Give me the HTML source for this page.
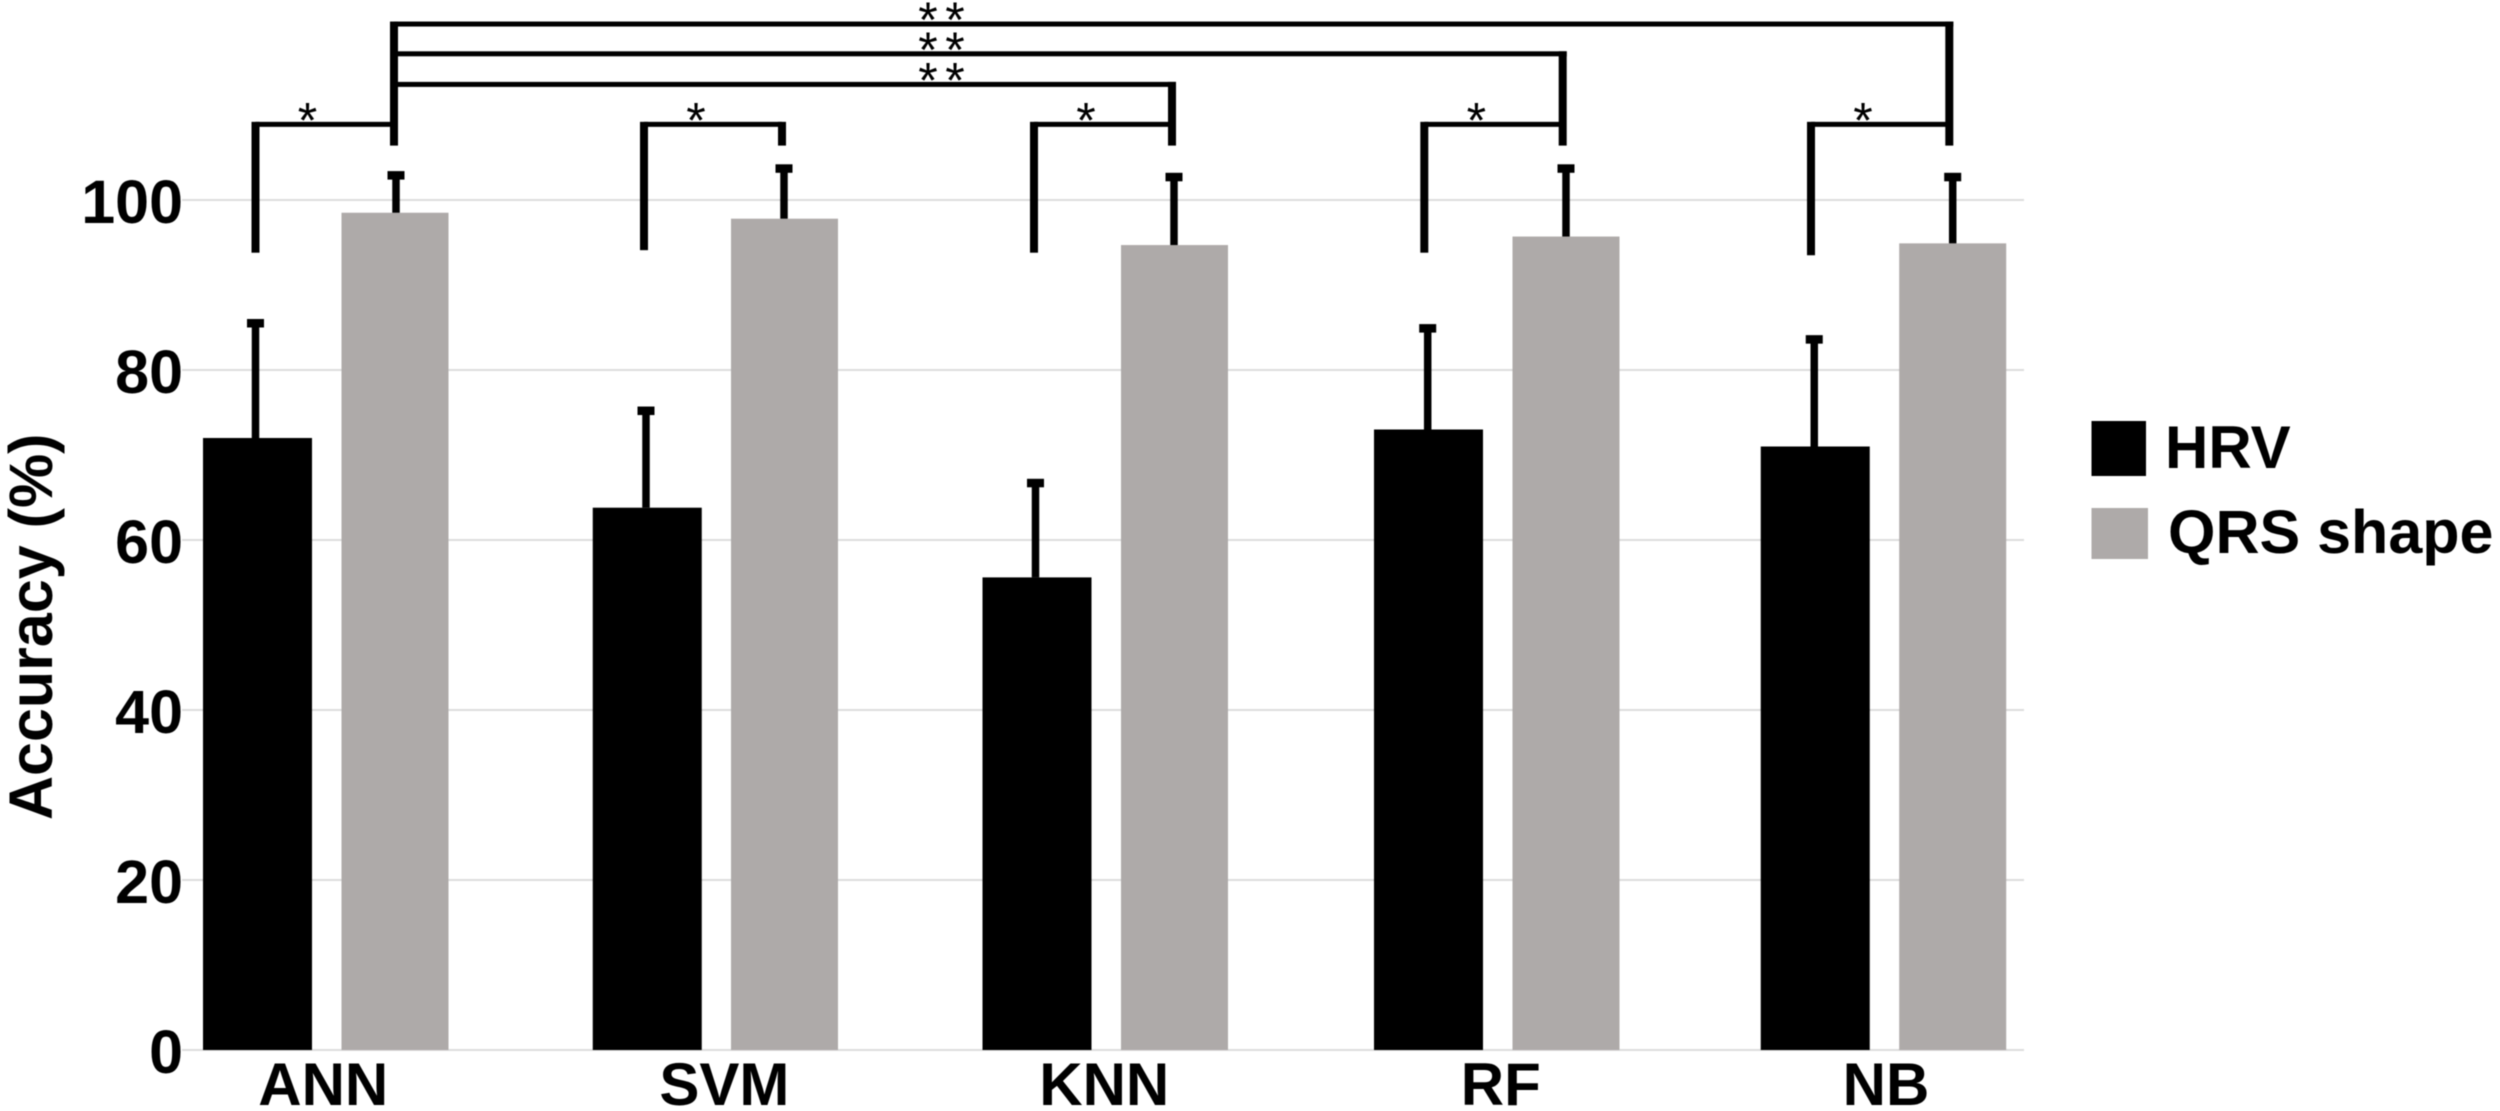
<!DOCTYPE html>
<html lang="en">
<head>
<meta charset="utf-8">
<title>Accuracy of HRV vs QRS shape classifiers</title>
<style>
  html, body { margin: 0; padding: 0; background: #fff; }
  #chart { display: block; width: 2500px; height: 1111px; filter: blur(0.5px); }
  text { font-family: "Liberation Sans", Arial, sans-serif; fill: #000; }
  .bold { font-weight: 700; }
</style>
</head>
<body>
<svg id="chart" xmlns="http://www.w3.org/2000/svg" width="2500" height="1111" viewBox="0 0 2500 1111">
  <rect x="0" y="0" width="2500" height="1111" fill="#fff"/>
  <g id="grid"></g>
  <g id="ticks"></g>
  <g id="bars"></g>
  <g id="errors"></g>
  <g id="brackets"></g>
  <g id="xlabels"></g>
  <text class="bold" font-size="61" transform="translate(52,820) rotate(-90)">Accuracy (%)</text>
  <g>
    <g>
      <rect x="2091.5" y="421" width="54.5" height="55" fill="#000"/>
      <text class="bold" x="2165" y="468" font-size="60">HRV</text>
    </g>
    <g>
      <rect x="2091.5" y="508" width="56.5" height="51" fill="#aeaaa9"/>
      <text class="bold" x="2168" y="553" font-size="61">QRS shape</text>
    </g>
  </g>
</svg>
<script>
const categories = ["ANN", "SVM", "KNN", "RF", "NB"];
const hrvValues = [72.0, 63.8, 55.6, 73.0, 71.0];
const qrsValues = [98.5, 97.8, 94.7, 95.7, 94.9];
const hrvErrorTops = [85.5, 75.2, 66.7, 84.9, 83.6];
const qrsErrorTops = [102.9, 103.7, 102.7, 103.7, 102.7];
const yTicks = [0, 20, 40, 60, 80, 100];
const pairLevel = [108.9, 108.9, 108.9, 108.9, 108.9];
const longLevel = [null, null, 113.6, 117.2, 120.7];
const hrvBracketEnd = [93.8, 94.1, 93.8, 93.8, 93.5];
const qrsBracketEnd = [106.4, 106.4, 106.4, 106.4, 106.4];

const NS = 'http://www.w3.org/2000/svg';
function yScale(v) { return 1050 - v * 8.5; }
function xHrv(i) { return [257.5, 647.25, 1037, 1428.5, 1815.25][i]; }
function xQrs(i) { return [395, 784.5, 1174.5, 1566, 1952.7][i]; }
function stemOffset(series, i) {
  return series === 'hrv' ? [-2, -1.25, -1.5, -0.8, -1][i] : [1, -0.5, -0.5, 0, 0][i];
}
function bracketLeft(i) { return [255.5, 644, 1034, 1424.3, 1811][i]; }
function bracketRight(i) { return [394, 782, 1172, 1562.7, 1949.3][i]; }
function make(tag, attrs, parent) {
  const el = document.createElementNS(NS, tag);
  for (const k in attrs) el.setAttribute(k, attrs[k]);
  parent.appendChild(el);
  return el;
}

const gridG = document.getElementById('grid');
const ticksG = document.getElementById('ticks');
yTicks.forEach(function (t) {
  const line = make('rect', { x: 182, y: yScale(t) - 1, width: 1842, height: 2, fill: '#dcdcdc' }, gridG);
  
  
  const label = make('text', { x: 183, y: yScale(t) + 23, 'text-anchor': 'end', 'font-size': 61, 'class': 'bold' }, ticksG);
  label.textContent = String(t);
  
  
});

const barsG = document.getElementById('bars');
const errorsG = document.getElementById('errors');
function drawSeries(name, values, tops, xFn, width, color) {
  values.forEach(function (v, i) {
    const cx = xFn(i);
    const sx = cx + stemOffset(name, i);
    const bar = make('rect', { x: cx - width / 2, y: yScale(v), width: width, height: yScale(0) - yScale(v), fill: color }, barsG);
    
    
    const stem = make('rect', { x: sx - 3.75, y: yScale(tops[i]), width: 7.5, height: yScale(v) - yScale(tops[i]), fill: '#000' }, errorsG);
    
    
    const cap = make('rect', { x: sx - 8.5, y: yScale(tops[i]) - 4.25, width: 17, height: 8.5, fill: '#000' }, errorsG);
    
    
  });
}
drawSeries('hrv', hrvValues, hrvErrorTops, xHrv, 109, '#000');
drawSeries('qrs', qrsValues, qrsErrorTops, xQrs, 107, '#aeaaa9');

const bracketG = document.getElementById('brackets');
function hLine(x1, x2, y, name) {
  const el = make('rect', { x: x1, y: y - 2.5, width: x2 - x1, height: 5, fill: '#000' }, bracketG);
  
  
}
function vLine(x, y1, y2, name) {
  const el = make('rect', { x: x - 4, y: y1, width: 8, height: y2 - y1, fill: '#000' }, bracketG);
  
  
}
function star(x, y, name) {
  const el = make('text', { x: x, y: y, 'text-anchor': 'middle', 'font-size': 50 }, bracketG);
  el.textContent = '*';
  
  
}
categories.forEach(function (c, i) {
  const id = c.toLowerCase();
  const left = bracketLeft(i);
  const right = bracketRight(i);
  const py = yScale(pairLevel[i]);
  hLine(left, right, py, 'bracket-top-' + id);
  vLine(left, py - 2.5, yScale(hrvBracketEnd[i]), 'bracket-left-' + id);
  const topLevel = i === 0 ? longLevel[4] : (longLevel[i] === null ? pairLevel[i] : longLevel[i]);
  vLine(right, yScale(topLevel) - 2.5, yScale(qrsBracketEnd[i]), 'bracket-right-' + id);
  star(left + 52, py + 13, 'significance-star-' + id);
  if (longLevel[i] !== null) {
    const ly = yScale(longLevel[i]);
    hLine(bracketRight(0), right + 4, ly, 'long-bracket-' + id);
    star(928, ly + 13, 'significance-star-long-a-' + id);
    star(955, ly + 13, 'significance-star-long-b-' + id);
  }
});

const xLabelG = document.getElementById('xlabels');
categories.forEach(function (c, i) {
  const nudge = [-3, 8.5, -1.5, 3.5, 2][i];
  const label = make('text', { x: (xHrv(i) + xQrs(i)) / 2 + nudge, y: 1105, 'text-anchor': 'middle', 'font-size': 60, 'class': 'bold' }, xLabelG);
  label.textContent = c;
  
  
});
</script>
</body>
</html>
